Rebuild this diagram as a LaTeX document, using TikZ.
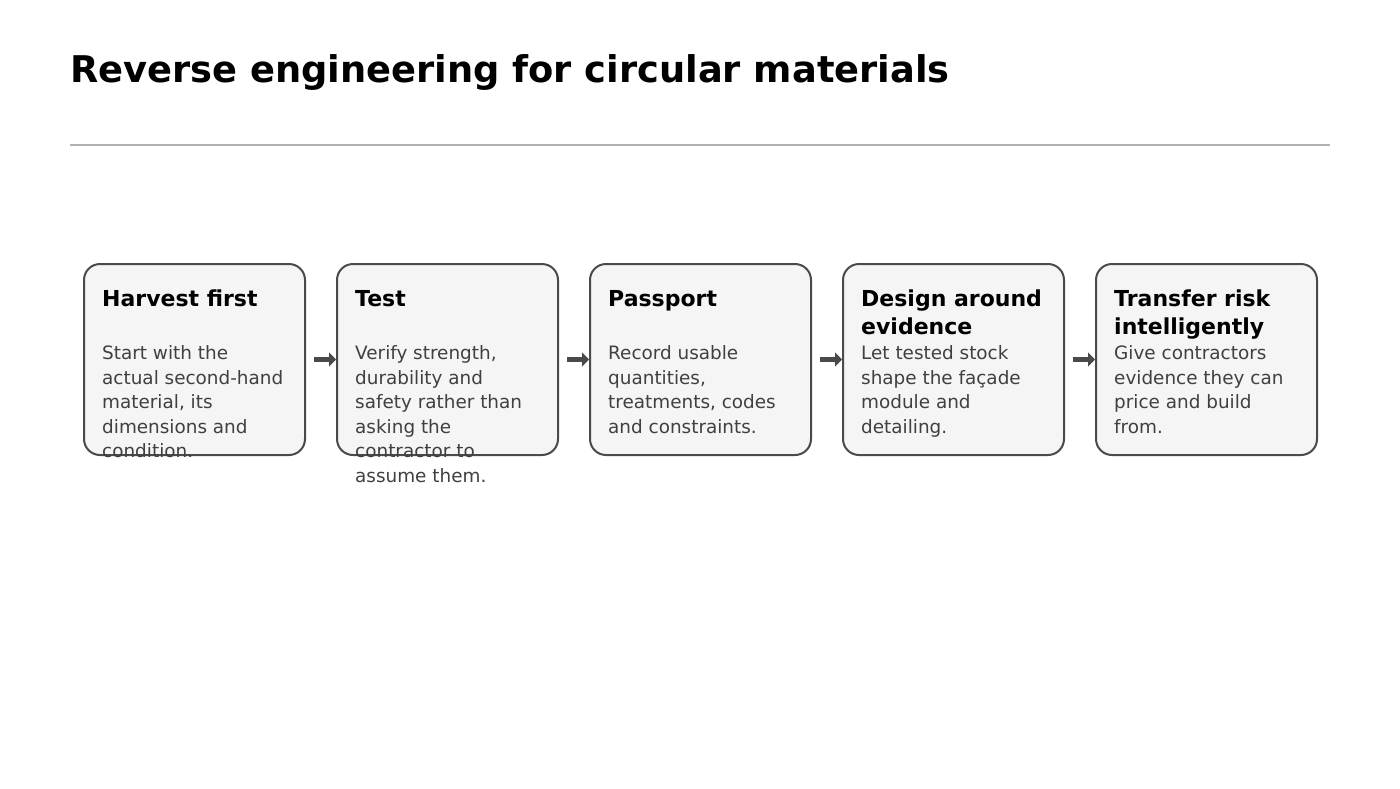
\documentclass[tikz,border=0pt]{standalone}
\usepackage{fontspec}
\setmainfont{DejaVu Sans}
\usetikzlibrary{arrows.meta}
\definecolor{boxfill}{HTML}{F5F5F5}
\definecolor{boxline}{HTML}{4A4A4A}
\definecolor{bodytext}{HTML}{404040}
\definecolor{rulegray}{HTML}{B0B0B0}
\newcommand\linesl[1]{\vtop{\halign{##\hfil\cr#1\crcr}}}
\tikzset{
  stepbox/.style={draw=boxline, line width=2pt, fill=boxfill, rounded corners=16pt,
    minimum width=221pt, minimum height=191pt, inner sep=0pt},
  headtext/.style={anchor=base west, inner sep=0pt, text=black,
    font=\fontsize{22}{28}\selectfont\bfseries},
  bodytxt/.style={anchor=base west, inner sep=0pt, text=bodytext,
    font=\fontsize{18.4}{24.5}\selectfont},
  flowarrow/.style={draw=boxline, line width=4.5pt, -{Triangle[length=7pt,width=14pt]}},
}
\begin{document}
\begin{tikzpicture}[x=1pt,y=-1pt]
\useasboundingbox (0,0) rectangle (1400,788);
\node[anchor=base west, inner sep=0pt, font=\fontsize{36.8}{44}\selectfont\bfseries] (title) at (70,82) {Reverse engineering for circular materials};
\coordinate (rl) at (70,145);
\coordinate (rr) at (1330,145);
\draw[rulegray, line width=1.5pt] (rl) -- (rr);

\foreach \i/\x in {1/194.5, 2/447.5, 3/700.5, 4/953.5, 5/1206.5} {
  \node[stepbox] (b\i) at (\x,359.5) {};
}

\node[headtext] (h1) at ([xshift=19pt,yshift=-43pt]b1.north west) {\linesl{Harvest first}};
\node[bodytxt] (t1) at ([xshift=19pt,yshift=-96.5pt]b1.north west) {\linesl{Start with the\cr actual second-hand\cr material, its\cr dimensions and\cr condition.}};

\node[headtext] (h2) at ([xshift=19pt,yshift=-43pt]b2.north west) {\linesl{Test}};
\node[bodytxt] (t2) at ([xshift=19pt,yshift=-96.5pt]b2.north west) {\linesl{Verify strength,\cr durability and\cr safety rather than\cr asking the\cr contractor to\cr assume them.}};

\node[headtext] (h3) at ([xshift=19pt,yshift=-43pt]b3.north west) {\linesl{Passport}};
\node[bodytxt] (t3) at ([xshift=19pt,yshift=-96.5pt]b3.north west) {\linesl{Record usable\cr quantities,\cr treatments, codes\cr and constraints.}};

\node[headtext] (h4) at ([xshift=19pt,yshift=-43pt]b4.north west) {\linesl{Design around\cr evidence}};
\node[bodytxt] (t4) at ([xshift=19pt,yshift=-96.5pt]b4.north west) {\linesl{Let tested stock\cr shape the façade\cr module and\cr detailing.}};

\node[headtext] (h5) at ([xshift=19pt,yshift=-43pt]b5.north west) {\linesl{Transfer risk\cr intelligently}};
\node[bodytxt] (t5) at ([xshift=19pt,yshift=-96.5pt]b5.north west) {\linesl{Give contractors\cr evidence they can\cr price and build\cr from.}};

\foreach \a/\b in {1/2,2/3,3/4,4/5} {
  \draw[flowarrow] ([xshift=8pt]b\a.east) -- (b\b.west);
}
\end{tikzpicture}
\end{document}
